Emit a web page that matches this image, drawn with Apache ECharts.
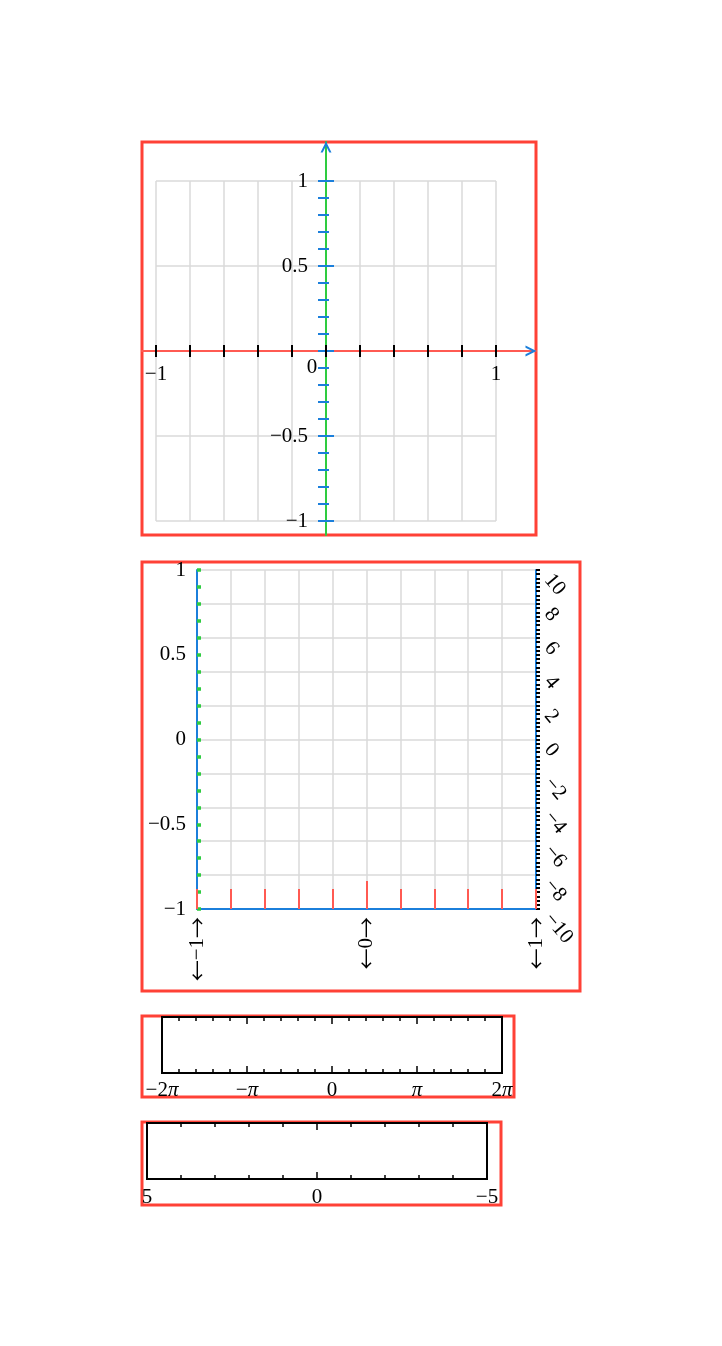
<!DOCTYPE html>
<html>
<head>
<meta charset="utf-8">
<script src="https://cdn.jsdelivr.net/npm/echarts@6/dist/echarts.min.js"></script>
<style>html,body{margin:0;padding:0;background:#fff}#c{width:722px;height:1346px}</style>
</head>
<body>
<div id="c"></div>
<script>
// ---------- data ----------
// Panel 1 (centred axes)
const P1_X_RANGE = [-1.0824, 1.2353];
const P1_Y_RANGE = [-1.0824, 1.2294];
const P1_GRID_X = [-1, 1];
const P1_GRID_Y = [-1, 1];
const P1_X_TICKS = [-1, -0.8, -0.6, -0.4, -0.2, 0, 0.2, 0.4, 0.6, 0.8, 1];
const P1_X_LABELS = [-1, 1];
const P1_ORIGIN_LABEL = [0];
const P1_Y_TICKS = [-1, -0.9, -0.8, -0.7, -0.6, -0.5, -0.4, -0.3, -0.2, -0.1, 0, 0.1, 0.2, 0.3, 0.4, 0.5, 0.6, 0.7, 0.8, 0.9, 1];
const P1_Y_MAJOR = [-1, -0.5, 0, 0.5, 1];
const P1_Y_LABELS = [-1, -0.5, 0.5, 1];
// Panel 2 (box axes with secondary scale)
const P2_RANGE = [-1, 1];
const P2_X_TICKS = [-1, -0.8, -0.6, -0.4, -0.2, 0, 0.2, 0.4, 0.6, 0.8, 1];
const P2_X_LONG_TICK = [0];
const P2_X_LABELS = [-1, 0, 1];
const P2_Y_TICKS = [-1, -0.9, -0.8, -0.7, -0.6, -0.5, -0.4, -0.3, -0.2, -0.1, 0, 0.1, 0.2, 0.3, 0.4, 0.5, 0.6, 0.7, 0.8, 0.9, 1];
const P2_Y_LABELS = [-1, -0.5, 0, 0.5, 1];
const P2_R_RANGE = [-10, 10];
const P2_R_LABELS = [-10, -8, -6, -4, -2, 0, 2, 4, 6, 8, 10];
// Panel 3 (multiples of pi)
const P3_TICK_FIFTHS = [-10, -9, -8, -7, -6, -5, -4, -3, -2, -1, 0, 1, 2, 3, 4, 5, 6, 7, 8, 9, 10];
const P3_LABEL_MULTIPLES = [-2, -1, 0, 1, 2];
const P3_LABEL_TEXT = ['\u22122{i|\u03c0}', '\u2212{i|\u03c0}', '0', '{i|\u03c0}', '2{i|\u03c0}'];
// Panel 4 (reversed axis)
const P4_RANGE = [-5, 5];
const P4_TICKS = [-5, -4, -3, -2, -1, 0, 1, 2, 3, 4, 5];
const P4_MAJOR = [-5, 0, 5];
const P4_LABELS = [-5, 0, 5];

// ---------- style ----------
const FONT = 'Liberation Serif';
const RED = '#ff4136', RED_L = '#ff5a52', GREEN = '#2ecc40', BLUE = '#1b7fdb', GRIDC = '#dadada';
const TXT = {color: '#000', fontFamily: FONT, fontSize: 21};
const ARROW = 'path://M0,100L50,0L100,100L80,100L50,40L20,100Z';
const fmt = v => String(+(+v).toFixed(6)).replace('-', '\u2212');

function ax(o) {
  return Object.assign({
    type: 'value', splitLine: {show: false}, axisLine: {show: false},
    axisTick: {show: false}, axisLabel: {show: false}
  }, o);
}
function hidden(g) { return ax({gridIndex: g, min: 0, max: 1, show: false, axisLine: {show: false, onZero: false}}); }
const border = c => ({show: true, borderColor: c, borderWidth: c === RED ? 3 : 2, backgroundColor: 'transparent', containLabel: false, outerBoundsMode: 'none'});
const plain = {containLabel: false, outerBoundsMode: 'none'};

const grid = [
  Object.assign({left: 156, top: 181, width: 340, height: 340}, plain),
  Object.assign({left: 142, top: 142, width: 394, height: 393}, border(RED)),
  Object.assign({left: 142, top: 562, width: 438, height: 429}, border(RED)),
  Object.assign({left: 197, top: 570, width: 339, height: 339}, plain),
  Object.assign({left: 142, top: 1016, width: 372, height: 81}, border(RED)),
  Object.assign({left: 162, top: 1017, width: 340, height: 56}, border('#000')),
  Object.assign({left: 142, top: 1122, width: 359, height: 83}, border(RED)),
  Object.assign({left: 147, top: 1123, width: 340, height: 56}, border('#000'))
];

// offset that moves a panel-1 label axis from the grid edge onto the zero line
const P1_LABEL_OFFSET = -184;

const P3_TICKS = P3_TICK_FIFTHS.map(k => k * Math.PI / 5);
const P3_MAJOR = P3_LABEL_MULTIPLES.map(k => k * Math.PI);
const p3fmt = v => P3_LABEL_TEXT[P3_LABEL_MULTIPLES.indexOf(Math.round(v / Math.PI))];

function frameAxis(g, pos, range, ticks, len, extra) {
  return ax(Object.assign({
    gridIndex: g, position: pos, min: range[0], max: range[1],
    axisLine: {show: true, onZero: false, lineStyle: {color: '#000', width: 2}},
    axisTick: {show: true, inside: true, length: len, customValues: ticks, lineStyle: {color: '#000', width: 1.5}}
  }, extra || {}));
}

const xAxis = [
  // 0: panel 1 grid lines
  ax({gridIndex: 0, position: 'bottom', min: P1_GRID_X[0], max: P1_GRID_X[1], interval: 0.2,
      axisLine: {show: false, onZero: false},
      splitLine: {show: true, lineStyle: {color: GRIDC, width: 1.5}}}),
  // 1: panel 1 x axis (red line, ticks below)
  ax({gridIndex: 1, position: 'bottom', min: P1_X_RANGE[0], max: P1_X_RANGE[1],
      axisLine: {show: true, onZero: true, onZeroAxisIndex: 1, lineStyle: {color: RED_L, width: 2}},
      axisTick: {show: true, inside: false, length: 6, customValues: P1_X_TICKS, lineStyle: {color: '#000', width: 2}}}),
  // 2: panel 1 x overlay (ticks above, arrow)
  ax({gridIndex: 1, position: 'bottom', min: P1_X_RANGE[0], max: P1_X_RANGE[1],
      axisLine: {show: true, onZero: true, onZeroAxisIndex: 1, symbol: ['none', ARROW], symbolSize: [11, 11], symbolOffset: [0, -5],
                 lineStyle: {color: BLUE, width: 2, opacity: 0}},
      axisTick: {show: true, inside: true, length: 6, customValues: P1_X_TICKS, lineStyle: {color: '#000', width: 2}}}),
  // 3: panel 1 x labels
  ax({gridIndex: 1, position: 'bottom', offset: P1_LABEL_OFFSET, min: P1_X_RANGE[0], max: P1_X_RANGE[1],
      axisLine: {show: false, onZero: false},
      axisLabel: Object.assign({show: true, customValues: P1_X_LABELS, margin: 13, formatter: fmt}, TXT)}),
  // 4: panel 1 origin label
  ax({gridIndex: 1, position: 'bottom', offset: P1_LABEL_OFFSET, min: P1_X_RANGE[0], max: P1_X_RANGE[1],
      axisLine: {show: false, onZero: false},
      axisLabel: Object.assign({show: true, customValues: P1_ORIGIN_LABEL, margin: 6, padding: [0, 28, 0, 0], formatter: fmt}, TXT)}),
  // 5: panel 2 border
  hidden(2),
  // 6: panel 2 grid lines
  ax({gridIndex: 3, position: 'bottom', min: P2_RANGE[0], max: P2_RANGE[1], interval: 0.2,
      axisLine: {show: false, onZero: false},
      splitLine: {show: true, lineStyle: {color: GRIDC, width: 1.5}}}),
  // 7: panel 2 bottom axis
  ax({gridIndex: 3, position: 'bottom', min: P2_RANGE[0], max: P2_RANGE[1],
      axisLine: {show: true, onZero: false, lineStyle: {color: BLUE, width: 2}},
      axisTick: {show: true, inside: true, length: 20, customValues: P2_X_TICKS, lineStyle: {color: RED_L, width: 2}},
      axisLabel: Object.assign({show: true, customValues: P2_X_LABELS, rotate: 90, margin: 8,
                                formatter: v => '{a|\u2190}' + fmt(v) + '{a|\u2192}',
                                rich: {a: {color: '#000', fontFamily: 'Noto Sans CJK SC', fontSize: 21}}}, TXT)}),
  // 8: panel 2 long centre tick
  ax({gridIndex: 3, position: 'bottom', min: P2_RANGE[0], max: P2_RANGE[1],
      axisLine: {show: false, onZero: false},
      axisTick: {show: true, inside: true, length: 28, customValues: P2_X_LONG_TICK, lineStyle: {color: RED_L, width: 2}}}),
  // 9: panel 3 border
  hidden(4),
  // 10-13: panel 3 frame axes
  frameAxis(5, 'bottom', [-2 * Math.PI, 2 * Math.PI], P3_TICKS, 4,
            {axisLabel: Object.assign({show: true, customValues: P3_MAJOR, margin: 7, formatter: p3fmt,
                                       rich: {i: Object.assign({fontStyle: 'italic'}, TXT)}}, TXT)}),
  frameAxis(5, 'bottom', [-2 * Math.PI, 2 * Math.PI], P3_MAJOR, 7),
  frameAxis(5, 'top', [-2 * Math.PI, 2 * Math.PI], P3_TICKS, 4),
  frameAxis(5, 'top', [-2 * Math.PI, 2 * Math.PI], P3_MAJOR, 7),
  // 14: panel 4 border
  hidden(6),
  // 15-18: panel 4 frame axes (reversed)
  frameAxis(7, 'bottom', P4_RANGE, P4_TICKS, 4,
            {inverse: true, axisLabel: Object.assign({show: true, customValues: P4_LABELS, margin: 8, formatter: fmt}, TXT)}),
  frameAxis(7, 'bottom', P4_RANGE, P4_MAJOR, 7, {inverse: true}),
  frameAxis(7, 'top', P4_RANGE, P4_TICKS, 4, {inverse: true}),
  frameAxis(7, 'top', P4_RANGE, P4_MAJOR, 7, {inverse: true})
];

const yAxis = [
  // 0: panel 1 grid lines
  ax({gridIndex: 0, position: 'left', min: P1_GRID_Y[0], max: P1_GRID_Y[1], interval: 0.5,
      axisLine: {show: false, onZero: false},
      splitLine: {show: true, lineStyle: {color: GRIDC, width: 1.5}}}),
  // 1: panel 1 y axis (green line, blue ticks to the left)
  ax({gridIndex: 1, position: 'left', min: P1_Y_RANGE[0], max: P1_Y_RANGE[1],
      axisLine: {show: true, onZero: true, onZeroAxisIndex: 1, lineStyle: {color: GREEN, width: 2}},
      axisTick: {show: true, inside: false, length: 8, customValues: P1_Y_TICKS, lineStyle: {color: BLUE, width: 2}}}),
  // 2: panel 1 y overlay (short ticks right, arrow)
  ax({gridIndex: 1, position: 'left', min: P1_Y_RANGE[0], max: P1_Y_RANGE[1],
      axisLine: {show: true, onZero: true, onZeroAxisIndex: 1, symbol: ['none', ARROW], symbolSize: [11, 11], symbolOffset: [0, -5],
                 lineStyle: {color: BLUE, width: 2, opacity: 0}},
      axisTick: {show: true, inside: true, length: 3, customValues: P1_Y_TICKS, lineStyle: {color: BLUE, width: 2}}}),
  // 3: panel 1 y overlay (major ticks right)
  ax({gridIndex: 1, position: 'left', min: P1_Y_RANGE[0], max: P1_Y_RANGE[1],
      axisLine: {show: true, onZero: true, onZeroAxisIndex: 1, lineStyle: {color: BLUE, width: 2, opacity: 0}},
      axisTick: {show: true, inside: true, length: 8, customValues: P1_Y_MAJOR, lineStyle: {color: BLUE, width: 2}}}),
  // 4: panel 1 y labels
  ax({gridIndex: 1, position: 'left', offset: P1_LABEL_OFFSET, min: P1_Y_RANGE[0], max: P1_Y_RANGE[1],
      axisLine: {show: false, onZero: false},
      axisLabel: Object.assign({show: true, customValues: P1_Y_LABELS, margin: 18, formatter: fmt}, TXT)}),
  // 5: panel 2 border
  hidden(2),
  // 6: panel 2 grid lines
  ax({gridIndex: 3, position: 'left', min: P2_RANGE[0], max: P2_RANGE[1], interval: 0.2,
      axisLine: {show: false, onZero: false},
      splitLine: {show: true, lineStyle: {color: GRIDC, width: 1.5}}}),
  // 7: panel 2 left axis
  ax({gridIndex: 3, position: 'left', min: P2_RANGE[0], max: P2_RANGE[1],
      axisLine: {show: true, onZero: false, lineStyle: {color: BLUE, width: 2}},
      axisTick: {show: true, inside: true, length: 4, customValues: P2_Y_TICKS, lineStyle: {color: GREEN, width: 3.5}},
      axisLabel: Object.assign({show: true, customValues: P2_Y_LABELS, margin: 11, formatter: fmt}, TXT)}),
  // 8: panel 2 right axis (-10..10)
  ax({gridIndex: 3, position: 'right', min: P2_R_RANGE[0], max: P2_R_RANGE[1], interval: 0.25,
      axisLine: {show: true, onZero: false, lineStyle: {color: BLUE, width: 2}},
      axisTick: {show: true, inside: false, length: 4, lineStyle: {color: '#000', width: 2}},
      axisLabel: Object.assign({show: true, customValues: P2_R_LABELS, rotate: -50, verticalAlign: 'top', margin: 20, formatter: fmt}, TXT)}),
  // 9-12: hidden y axes for remaining grids
  hidden(4), hidden(5), hidden(6), hidden(7)
];

const chart = echarts.init(document.getElementById('c'), null, {renderer: 'canvas'});
chart.setOption({
  animation: false,
  backgroundColor: '#fff',
  grid: grid,
  xAxis: xAxis,
  yAxis: yAxis,
  series: []
});
</script>
</body>
</html>
